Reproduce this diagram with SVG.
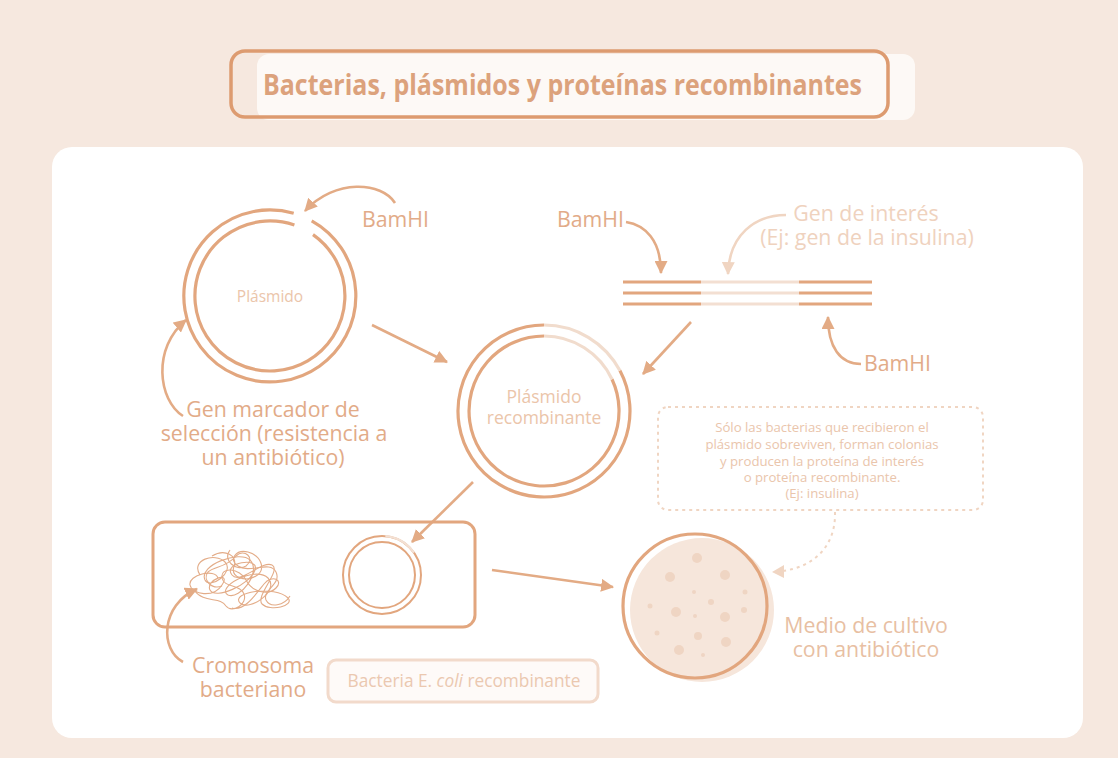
<svg xmlns="http://www.w3.org/2000/svg" width="1118" height="758" viewBox="0 0 1118 758">
  <style>
    .lbl { font-family: "Open Sans", "Noto Sans", sans-serif; font-size: 21.3px; fill: #e2ab88; }
    .lbl-mid { text-anchor: middle; }
    .soft { font-family: "Open Sans", "Noto Sans", sans-serif; fill: #ebc5aa; text-anchor: middle; }
    .note { font-family: "Open Sans", "Noto Sans", sans-serif; font-size: 13.2px; fill: #eac5ac; text-anchor: middle; }
    .ring { fill: none; stroke: #e2a67e; stroke-width: 3.2; }
    .ring-light { fill: none; stroke: #f1dccd; stroke-width: 3.2; }
    .arrow { fill: none; stroke: #e3ab85; stroke-width: 2.6; marker-end: url(#head); }
    .arrow-light { fill: none; stroke: #f0d5c2; stroke-width: 2.6; marker-end: url(#head-light); }
    .dna { stroke: #e2a67e; stroke-width: 3; }
    .dna-light { stroke: #f3dfd2; stroke-width: 3; }
    .colony { fill: #efd5c3; }
  </style>
  <defs>
    <marker id="head" viewBox="0 0 12 12" refX="11" refY="6" markerWidth="13" markerHeight="13" markerUnits="userSpaceOnUse" orient="auto">
      <path d="M0,0 L12,6 L0,12 z" fill="#e3ab85"/>
    </marker>
    <marker id="head-light" viewBox="0 0 12 12" refX="11" refY="6" markerWidth="13" markerHeight="13" markerUnits="userSpaceOnUse" orient="auto">
      <path d="M0,0 L12,6 L0,12 z" fill="#f0d5c2"/>
    </marker>
  </defs>

  <!-- page background and white panel -->
  <rect x="0" y="0" width="1118" height="758" fill="#f6e8df"/>
  <rect x="52" y="147" width="1031" height="591" rx="20" fill="#ffffff"/>

  <!-- title -->
  <g id="title">
    <rect x="257" y="54" width="658" height="66" rx="12" fill="#fdf9f6"/>
    <rect x="231" y="51" width="657" height="66" rx="14" fill="none" stroke="#dd9b70" stroke-width="3.5"/>
    <text x="263" y="95" textLength="599" lengthAdjust="spacingAndGlyphs" font-family="'Open Sans', 'Noto Sans', sans-serif" font-size="29" font-weight="700" fill="#dca27c">Bacterias, plásmidos y proteínas recombinantes</text>
  </g>

  <!-- connectors -->
  <g id="connectors">
    <path class="arrow" d="M395,203 C382,182 335,178 305,211"/>
    <path class="arrow" d="M183,416 C158,400 152,348 186,320"/>
    <path class="arrow" d="M372,325 L447,362"/>
    <path class="arrow" d="M626,222 C645,225 661,240 661,273"/>
    <path class="arrow-light" d="M786,215 C755,215 729,235 728,274"/>
    <path class="arrow" d="M861,364 C840,364 828,347 828,317"/>
    <path class="arrow" d="M691,322 L643,374"/>
    <path class="arrow" d="M473,482 L412,542"/>
    <path class="arrow" d="M183,662 C160,650 160,605 197,589"/>
    <path class="arrow" d="M492,570 L613,587"/>
    <path fill="none" stroke="#f0d5c2" stroke-width="2" stroke-dasharray="3 4" d="M835,512 C836,545 815,567 782,571"/>
    <path d="M772,572 L784,565 L784,578 z" fill="#f0d5c2"/>
  </g>

  <!-- cut plasmid -->
  <g id="plasmid">
    <path class="ring" d="M311.7,220.8 A86,86 0 1,1 293.7,213.3"/>
    <path class="ring" d="M313.0,234.6 A75,75 0 1,1 294.4,225.1"/>
    <text class="soft" x="270" y="302" font-size="15.5">Plásmido</text>
    <text class="lbl" x="362" y="227">BamHI</text>
  </g>

  <!-- selection marker label -->
  <g id="marker-label">
    <text class="lbl lbl-mid" x="273" y="417">Gen marcador de</text>
    <text class="lbl lbl-mid" x="274" y="441">selección (resistencia a</text>
    <text class="lbl lbl-mid" x="273" y="465">un antibiótico)</text>
  </g>

  <!-- gene of interest fragment -->
  <g id="dna-fragment">
    <line class="dna" x1="623" y1="282" x2="701" y2="282"/>
    <line class="dna" x1="623" y1="293" x2="701" y2="293"/>
    <line class="dna" x1="623" y1="304" x2="701" y2="304"/>
    <line class="dna-light" x1="701" y1="282" x2="799" y2="282"/>
    <line class="dna-light" x1="701" y1="293" x2="799" y2="293"/>
    <line class="dna-light" x1="701" y1="304" x2="799" y2="304"/>
    <line class="dna" x1="799" y1="282" x2="872" y2="282"/>
    <line class="dna" x1="799" y1="293" x2="872" y2="293"/>
    <line class="dna" x1="799" y1="304" x2="872" y2="304"/>
    <text class="lbl" x="557" y="227">BamHI</text>
    <text class="lbl" x="864" y="371">BamHI</text>
    <text class="lbl lbl-mid" x="866" y="221" style="fill:#efd2be">Gen de interés</text>
    <text class="lbl lbl-mid" x="867" y="245" style="fill:#efd2be">(Ej: gen de la insulina)</text>
  </g>

  <!-- recombinant plasmid -->
  <g id="recombinant-plasmid">
    <path class="ring" d="M619.9,370.6 A86,86 0 1,1 544,325"/>
    <path class="ring-light" d="M544,325 A86,86 0 0,1 619.9,370.6"/>
    <path class="ring" d="M612.0,379.3 A75,75 0 1,1 544,336"/>
    <path class="ring-light" d="M544,336 A75,75 0 0,1 612.0,379.3"/>
    <text class="soft" x="544" y="403" font-size="17.5">Plásmido</text>
    <text class="soft" x="544" y="424" font-size="17.5">recombinante</text>
  </g>

  <!-- recombinant bacterium -->
  <g id="bacterium">
    <rect x="153" y="522" width="322" height="105" rx="12" fill="none" stroke="#e2a67e" stroke-width="3"/>
    <circle cx="382" cy="575" r="39" fill="none" stroke="#e2a67e" stroke-width="2"/>
    <circle cx="382" cy="575" r="33" fill="none" stroke="#e2a67e" stroke-width="2"/>
    <path d="M385.4,536.1 A39,39 0 0,1 413.9,552.6" fill="none" stroke="#f3e0d3" stroke-width="2.4"/>
    <g fill="none" stroke="#e3ac88" stroke-width="1.1" stroke-linejoin="round">
      <path d="M200,575 C190,560 215,552 225,562 C235,572 210,590 205,580 C198,565 240,550 250,560 C262,572 240,600 228,595 C215,588 255,565 268,578 C280,590 250,612 240,603 C230,592 275,585 288,598 C295,606 270,612 262,604 C255,596 282,570 272,565 C262,560 240,585 232,575 C222,563 260,556 255,570 C250,585 215,600 210,590 C205,580 232,570 222,585 C214,598 192,595 190,585 C188,575 215,568 218,578"/>
      <path d="M212,556 C225,548 238,556 234,566 C230,578 246,582 256,576 C266,570 262,556 248,552 C236,549 228,560 238,566 C250,574 270,560 276,572 C282,584 262,590 266,600 C270,608 284,606 290,596"/>
      <path d="M194,590 C204,604 220,596 226,606 C232,614 248,604 244,594 C240,584 224,588 222,578 C220,566 240,568 246,580 C252,592 268,596 276,588 C284,580 272,574 264,584 C256,594 244,612 232,608"/>
      <path d="M230,550 C222,560 236,572 246,566 C256,558 244,548 236,556 C226,568 214,566 208,572 C202,580 212,590 222,586"/>
    </g>
  </g>

  <!-- chromosome label -->
  <g id="chromosome-label">
    <text class="lbl lbl-mid" x="253" y="673">Cromosoma</text>
    <text class="lbl lbl-mid" x="253" y="697">bacteriano</text>
  </g>

  <!-- bacterium caption -->
  <g id="bacterium-caption">
    <rect x="328" y="660" width="270" height="42" rx="8" fill="#fefaf8" stroke="#f2dacb" stroke-width="3"/>
    <text x="464" y="687" text-anchor="middle" font-family="'Open Sans', 'Noto Sans', sans-serif" font-size="17.3" fill="#ebc8b0">Bacteria E. <tspan font-style="italic">coli</tspan> recombinante</text>
  </g>

  <!-- callout -->
  <g id="callout">
    <rect x="658" y="407" width="325" height="103" rx="10" fill="none" stroke="#f0d5c2" stroke-width="2" stroke-dasharray="3 4"/>
    <text class="note" x="822" y="432">Sólo las bacterias que recibieron el</text>
    <text class="note" x="822" y="449">plásmido sobreviven, forman colonias</text>
    <text class="note" x="822" y="466">y producen la proteína de interés</text>
    <text class="note" x="822" y="482">o proteína recombinante.</text>
    <text class="note" x="822" y="498">(Ej: insulina)</text>
  </g>

  <!-- culture dish -->
  <g id="culture-dish">
    <circle cx="702" cy="610" r="72" fill="#f6e6db"/>
    <circle cx="695" cy="606" r="72" fill="none" stroke="#e2a67e" stroke-width="3.2"/>
    <circle class="colony" cx="697" cy="558" r="5"/>
    <circle class="colony" cx="670" cy="577" r="5"/>
    <circle class="colony" cx="725" cy="575" r="5"/>
    <circle class="colony" cx="745" cy="592" r="2.5"/>
    <circle class="colony" cx="694" cy="592" r="2"/>
    <circle class="colony" cx="711" cy="602" r="3"/>
    <circle class="colony" cx="650" cy="606" r="2.5"/>
    <circle class="colony" cx="676" cy="612" r="5"/>
    <circle class="colony" cx="695" cy="616" r="2"/>
    <circle class="colony" cx="725" cy="617" r="5"/>
    <circle class="colony" cx="744" cy="610" r="3"/>
    <circle class="colony" cx="657" cy="633" r="2.5"/>
    <circle class="colony" cx="698" cy="636" r="4"/>
    <circle class="colony" cx="726" cy="642" r="5"/>
    <circle class="colony" cx="679" cy="650" r="5"/>
    <circle class="colony" cx="703" cy="655" r="2"/>
    <text class="lbl lbl-mid" x="866" y="633" style="fill:#e8bfa3">Medio de cultivo</text>
    <text class="lbl lbl-mid" x="866" y="657" style="fill:#e8bfa3">con antibiótico</text>
  </g>
</svg>
